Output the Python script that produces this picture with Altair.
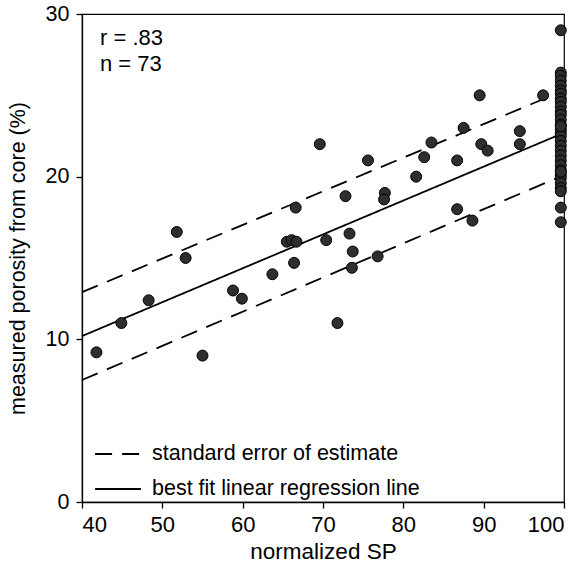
import altair as alt
import pandas as pd

# scatter data: normalized SP vs measured core porosity
sp = [41.8, 44.9, 48.3, 55.0, 58.8, 59.9, 63.7, 51.8, 52.9, 66.6,
      65.5, 66.1, 66.7, 66.4, 69.6, 89.5, 97.4, 87.5, 83.5, 94.5,
      94.5, 89.7, 90.5, 75.6, 82.6, 86.7, 81.6, 72.8, 77.7, 77.6,
      86.7, 88.6, 70.4, 73.3, 73.7, 73.6, 76.8, 71.8,
      99.6, 99.6, 99.6, 99.6, 99.6, 99.6, 99.6, 99.6, 99.6, 99.6,
      99.6, 99.6, 99.6, 99.6, 99.6, 99.6, 99.6, 99.6, 99.6, 99.6,
      99.6, 99.6, 99.6, 99.6, 99.6, 99.6, 99.6, 99.6, 99.6, 99.6,
      99.6, 99.6, 99.6]
porosity = [9.2, 11.0, 12.4, 9.0, 13.0, 12.5, 14.0, 16.6, 15.0, 18.1,
            16.0, 16.1, 16.0, 14.7, 22.0, 25.0, 25.0, 23.0, 22.1, 22.8,
            22.0, 22.0, 21.6, 21.0, 21.2, 21.0, 20.0, 18.8, 19.0, 18.6,
            18.0, 17.3, 16.1, 16.5, 15.4, 14.4, 15.1, 11.0,
            29.0, 26.4, 26.2, 25.9, 25.6, 25.3, 25.1, 24.8, 24.6, 24.3,
            24.0, 23.8, 23.5, 23.2, 22.9, 22.7, 22.5, 22.2, 21.9, 21.6,
            21.3, 21.0, 20.7, 20.4, 20.1, 19.9, 19.6, 19.3, 19.1, 18.1,
            17.2, 23.1, 20.3]

# regression and standard-error lines (endpoints at x = 40 and x = 100)
line_x = [40, 100]
fit_y = [10.2, 22.7]
upper_y = [12.9, 25.3]
lower_y = [7.5, 20.1]

SE_LABEL = "standard error of estimate"
FIT_LABEL = "best fit linear regression line"
stats_text = ["r = .83", "n = 73"]

pts = pd.DataFrame({"sp": sp, "por": porosity})

rows = []
for name, kind, ys in [("upper", SE_LABEL, upper_y), ("lower", SE_LABEL, lower_y), ("fit", FIT_LABEL, fit_y)]:
    for xv, yv in zip(line_x, ys):
        rows.append({"line": name, "kind": kind, "sp": xv, "por": yv})
lines_df = pd.DataFrame(rows)

FONT = "Liberation Sans"

xscale = alt.Scale(domain=[40, 100], nice=False)
yscale = alt.Scale(domain=[0, 30], nice=False)

xaxis = alt.Axis(values=[40, 50, 60, 70, 80, 90, 100], title="normalized SP",
                 grid=False, tickSize=6, labelPadding=6, titlePadding=5,
                 labelFontSize=22, titleFontSize=22.5, titleFontWeight="normal",
                 labelFont=FONT, titleFont=FONT, domainColor="black", tickColor="black",
                 labelColor="black", titleColor="black", domainWidth=1.3, tickWidth=1.3)
yaxis = alt.Axis(values=[0, 10, 20, 30], title="measured porosity from core (%)",
                 grid=False, tickSize=6, labelPadding=7, titlePadding=16,
                 labelFontSize=21.5, titleFontSize=21.5, titleFontWeight="normal",
                 labelFont=FONT, titleFont=FONT, domainColor="black", tickColor="black",
                 labelColor="black", titleColor="black", domainWidth=1.3, tickWidth=1.3)

lines = alt.Chart(lines_df).mark_line(color="black", strokeWidth=1.8).encode(
    x=alt.X("sp:Q", scale=xscale, axis=xaxis),
    y=alt.Y("por:Q", scale=yscale, axis=yaxis),
    detail="line:N",
    strokeDash=alt.StrokeDash(
        "kind:N",
        scale=alt.Scale(domain=[SE_LABEL, FIT_LABEL], range=[[17, 10], [1, 0]]),
        legend=alt.Legend(
            title=None, orient="none", legendX=12, legendY=416,
            symbolType="stroke", symbolSize=2100, symbolStrokeWidth=1.8,
            symbolStrokeColor="black", labelFontSize=21.5, labelFont=FONT,
            labelColor="black", rowPadding=-18, labelOffset=10, labelLimit=0,
        ),
    ),
)

points = alt.Chart(pts).mark_point(
    filled=True, size=120, fill="#2e2e2e", stroke="#000000", strokeWidth=1, opacity=1
).encode(
    x=alt.X("sp:Q", scale=xscale),
    y=alt.Y("por:Q", scale=yscale),
)

ann = alt.Chart(pd.DataFrame({"t": ["\n".join(stats_text)]})).mark_text(
    align="left", baseline="top", fontSize=22, font=FONT, color="black",
    lineBreak="\n", lineHeight=26
).encode(
    text="t:N",
    x=alt.value(18),
    y=alt.value(14),
)

chart = alt.layer(lines, points, ann).properties(
    width=482, height=488,
    autosize=alt.AutoSizeParams(type="none"),
    padding={"left": 82, "top": 14, "right": 22, "bottom": 63},
    background="white",
).configure_view(stroke="black", strokeWidth=1.2)

chart.save("out.html", embed_options={"renderer": "svg", "actions": False})
